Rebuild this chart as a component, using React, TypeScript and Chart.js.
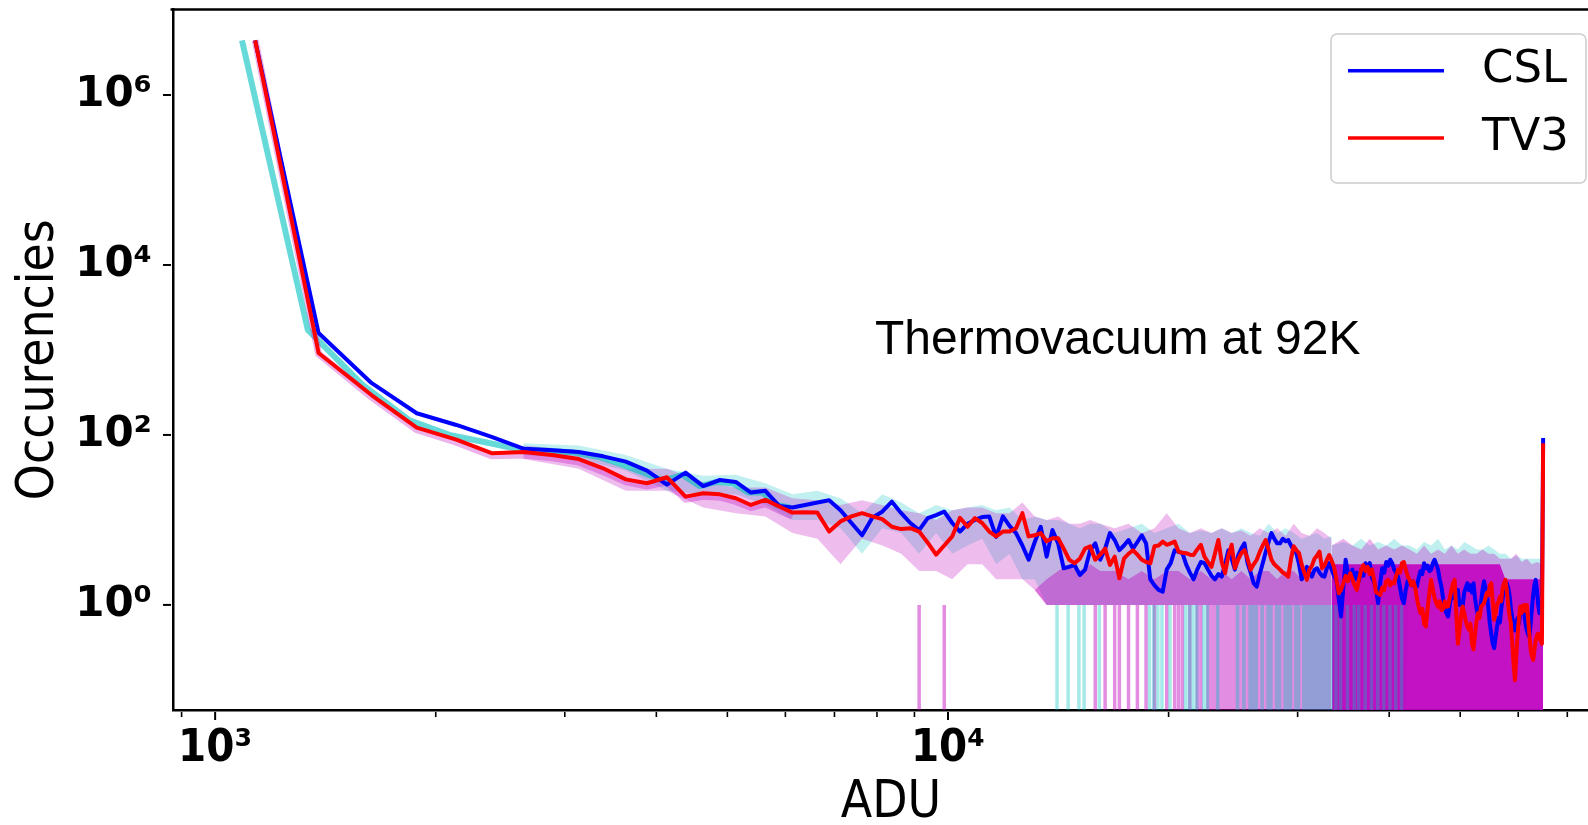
import React, { useEffect, useRef } from 'react';
import { Chart, registerables } from 'chart.js';

Chart.register(...registerables);

// ---------------- data ----------------
const BIN_WIDTH = 250; // ADU per histogram bin
const BIN_START = 1134; // first bin of the CSL / TV3 mean histograms (ADU)
const CSL_FRAME_BIN_START = 1088; // CSL single-frame histograms start a little lower

// mean histograms (256 bins, last bin = saturation)
const CSL_COUNTS = [
  4.4e6, 1585, 409, 180, 131, 95, 69, 66, 63, 56,
  48.5, 38, 26, 36, 25, 29.5, 28, 21, 22, 14.6,
  14, 15, 16, 17, 13, 9.2, 6.6, 10.6, 12.5, 16.4,
  12, 9.2, 7.6, 10.5, 11.4, 12.5, 9.2, 7.3, 9, 10,
  10.8, 11, 6.3, 11, 8.5, 7, 5, 3.4, 5.5, 8.3,
  3.7, 7.6, 5.3, 2.7, 2.8, 2.95, 2.25, 2.6, 4.4, 5.3,
  3.4, 4.6, 7.0, 5.8, 4.4, 5.0, 5.8, 4.6, 5.5, 6.6,
  5.3, 2.0, 1.7, 1.5, 1.43, 2.6, 3.1, 4.4, 4.2, 4.1,
  3.0, 2.4, 2.0, 2.6, 3.2, 3.1, 2.6, 2.2, 2.0, 2.3,
  2.15, 3.0, 4.4, 3.5, 2.6, 3.8, 4.6, 5.3, 3.1, 2.4,
  1.8, 1.64, 2.3, 3.1, 4.2, 5.5, 7.0, 6.0, 5.3, 5.3,
  6.0, 5.6, 5.8, 5.0, 4.4, 4.06, 3.0, 2.0, 2.3, 2.8,
  2.4, 2.15, 2.6, 2.7, 2.4, 2.2, 2.15, 2.7, 3.1, 2.6,
  2.2, 1.97, 1.2, 0.73, 1.6, 3.4, 2.4, 2.0, 2.6, 2.0,
  2.4, 1.9, 2.6, 2.2, 3.1, 2.6, 3.1, 2.1, 1.88, 1.5,
  1.05, 1.8, 2.7, 2.4, 3.2, 2.9, 3.4, 3.1, 2.6, 2.4,
  2.15, 1.6, 1.2, 1.05, 1.5, 1.9, 1.97, 1.7, 1.9, 1.6,
  1.64, 2.1, 2.5, 2.3, 3.1, 2.7, 2.9, 2.5, 2.6, 3.1,
  3.4, 3.0, 2.6, 2.0, 1.64, 1.2, 0.9, 0.8, 0.73, 1.0,
  1.4, 1.2, 1.7, 1.3, 1.5, 1.0, 1.1, 0.96, 1.4, 1.6,
  1.8, 1.5, 1.7, 1.4, 1.8, 1.2, 0.9, 0.75, 0.73, 1.1,
  1.5, 1.9, 1.6, 1.3, 0.9, 0.6, 0.45, 0.35, 0.31, 0.42,
  0.55, 0.7, 0.62, 0.9, 1.2, 1.6, 1.4, 1.8, 1.6, 1.3,
  0.9, 0.7, 0.62, 0.5, 0.61, 0.7, 0.6, 0.8, 0.9, 0.96,
  0.8, 0.6, 0.5, 0.45, 0.42, 0.6, 0.9, 1.3, 1.7, 1.97,
  1.5, 1.0, 0.8, 0.9, 0.96, 92,
];

const TV3_COUNTS = [
  4.4e6, 922, 295, 122, 88, 61, 63, 58, 52, 40.5,
  30, 27, 31.8, 18.8, 20.6, 20, 18, 15, 17.2, 14.4,
  12.2, 12.3, 12.2, 7.3, 9.6, 11, 12, 11, 10.2, 8.3,
  7.8, 8, 7.3, 5.4, 3.9, 5.0, 6.4, 10.6, 8.3, 10.5,
  9.2, 7.3, 6.4, 7.3, 7.3, 8, 12, 6.4, 6.6, 7.0,
  5.6, 6.1, 6.1, 4.6, 3.4, 3.1, 3.5, 4.6, 4.9, 3.4,
  3.9, 4.6, 2.95, 3.7, 2.06, 3.5, 4.0, 4.4, 3.9, 3.4,
  3.2, 3.1, 4.9, 5.0, 5.56, 5.1, 5.3, 5.56, 4.24, 4.1,
  4.06, 3.9, 3.87, 4.5, 5.1, 3.7, 3.2, 2.8, 4.0, 5.8,
  3.2, 2.36, 3.8, 5.1, 2.7, 3.4, 4.06, 4.4, 3.5, 2.6,
  3.0, 3.4, 4.2, 5.0, 5.8, 4.5, 3.4, 3.0, 2.8, 2.6,
  2.4, 2.3, 2.15, 3.5, 4.9, 4.4, 4.06, 3.0, 2.4, 1.97,
  2.6, 2.9, 3.5, 3.8, 4.24, 2.7, 2.9, 3.4, 3.87, 3.3,
  2.8, 2.0, 1.37, 1.5, 1.8, 2.2, 1.9, 2.36, 2.0, 1.7,
  1.5, 2.0, 2.6, 2.95, 2.5, 2.8, 2.3, 2.6, 2.0, 1.4,
  1.37, 1.31, 1.6, 1.5, 1.9, 1.97, 1.7, 1.85, 1.8, 2.2,
  2.6, 2.4, 3.1, 3.2, 2.6, 2.2, 1.97, 1.7, 1.9, 1.64,
  1.2, 0.95, 0.8, 0.9, 0.6, 0.56, 0.9, 1.4, 1.97, 1.5,
  1.2, 1.05, 0.95, 1.1, 0.87, 0.9, 1.1, 0.95, 0.96, 1.2,
  1.5, 1.8, 1.97, 0.8, 0.35, 0.5, 0.75, 0.96, 0.8, 0.65,
  0.55, 0.51, 0.6, 0.35, 0.3, 0.45, 0.65, 0.8, 0.7, 0.95,
  1.0, 1.05, 1.2, 1.4, 1.3, 1.7, 1.8, 1.1, 0.67, 0.8,
  1.0, 1.1, 1.25, 1.1, 1.6, 1.8, 1.97, 1.5, 1.0, 0.75,
  0.61, 0.35, 0.2, 0.13, 0.25, 0.45, 0.7, 0.96, 0.8, 0.98,
  1.0, 0.85, 1.0, 0.7, 0.45, 0.3, 0.25, 0.225, 0.3, 0.38,
  0.44, 0.46, 0.4, 0.38, 0.35, 80,
];

// single-frame histograms: typical level of the first bins
const CSL_FRAMES_MEAN = [4.4e6, 1720, 390, 150, 100, 82, 68, 65, 62, 55, 45, 36, 29, 34, 25, 28, 27, 21, 21, 15, 14];
const TV3_FRAMES_MEAN = [4.4e6, 900, 280, 115, 82, 57, 58, 54, 48, 37, 28, 25, 28, 17.5, 19, 18.5, 16.5, 14, 15.5, 13, 11];

// single-frame spread (envelopes), below ~33k ADU
const BINS_AB = [
  6, 8, 10, 12, 14, 16, 18, 20, 22, 24, 26, 28, 30, 32, 34, 36, 38, 40, 42, 44, 46, 48, 50, 52, 54, 56, 58, 60,
  63, 66, 69, 72, 75, 78, 81, 84, 87, 90, 93, 96, 99, 102, 105, 108, 111, 114, 117, 120, 123, 126, 129,
];
const TV3_MAX_AB = [
  75, 66, 40, 40, 28, 24, 24, 18, 17, 15, 17, 15, 13, 12, 10, 13, 14, 14, 12, 12, 16, 11, 10, 11, 9, 9, 10, 9,
  8, 9, 7, 8, 12, 8, 7, 8, 7, 8, 7, 7.5, 6.5, 8, 7, 8, 6.5, 9, 7, 6.5, 8, 7, 6,
];
const TV3_MIN_AB = [
  52, 40, 22, 22, 14, 12, 11, 7, 6, 3, 6, 5, 4, 2.5, 2.5, 2, 3, 3, 2, 2, 2, 1.5, 1, 1, 1, 1, 1, 1,
  1, 1, 1, 1, 1, 1, 1, 1, 1, 1, 1, 1, 1, 1, 1, 1, 1, 1, 1, 1, 1, 1, 1,
];
const TV3_CORE_AB = [
  52, 40, 22, 22, 14, 12, 11, 7, 6, 3, 6, 5, 4, 2.5, 2.5, 2, 3, 3, 2, 2, 2, 1.5, 2, 2.5, 3, 2.5, 3, 2.5,
  2.5, 2, 2.5, 2, 2.5, 2.5, 2, 2.5, 2, 2.5, 2, 2.5, 2, 2.5, 2.5, 2, 2.5, 2.5, 2, 2.5, 2.5, 3, 3,
];
const CSL_MAX_AB = [
  80, 75, 58, 40, 33, 34, 27, 20, 22, 18, 12, 20, 16, 12, 15, 13, 14, 15, 13, 14, 10, 11, 10, 10, 9, 8, 9, 9,
  7, 8, 9, 7, 8, 9, 7, 7.5, 7, 8, 7, 8, 7, 6.5, 9, 7, 8, 7, 6, 6.5, 7, 6, 6.5,
];
const CSL_MIN_AB = [
  58, 52, 38, 22, 20, 20, 15, 10, 10, 8, 4, 8, 7, 4, 7, 4, 5, 6, 3, 4, 2, 2, 1, 1, 1, 1, 1, 1,
  1, 1, 1, 1, 1, 1, 1, 1, 1, 1, 1, 1, 1, 1, 1, 1, 1, 1, 1, 1, 1, 1, 1,
];

// single-frame spread above ~33k ADU (most frames hit 0 counts there)
const BINS_C = [
  129, 134, 138, 142, 146, 150, 154, 158, 162, 166, 170, 174, 178, 182, 186, 190, 194, 198, 202, 206, 210,
  214, 218, 222, 226, 230, 234, 238, 242, 246, 250, 254, 255,
];
const TV3_MAX_C = [
  5, 6, 5, 4.5, 6, 4.5, 5, 4.5, 5, 4.5, 4, 5, 4, 4.5, 4, 5, 4, 4.5, 4, 4, 4.5, 4, 4, 3.5, 3.5, 3.5, 4, 3.2,
  3.5, 3, 3.2, 3, 3,
];
const TV3_MIN_C = [
  0, 0, 0, 0, 0, 0, 0, 0, 0, 0, 0, 0, 0, 0, 0, 0, 0, 0, 0, 0, 0, 0, 0, 0, 0, 0, 0, 0, 0, 0, 0, 0, 0,
];
const TV3_CORE_C = [
  3, 3, 3, 3, 3, 3, 3, 3, 3, 3, 3, 3, 3, 3, 3, 3, 3, 3, 3, 3, 3, 3, 3, 3, 2, 2, 2, 2, 2, 2, 2, 2, 2,
];
const CSL_MAX_C = [
  5, 5.5, 5, 6, 5, 5.5, 5, 6, 5, 5, 4.5, 5.5, 5, 6, 4.5, 5, 4.5, 5.5, 5, 4.5, 4.5, 5, 4.5, 4, 4, 3.5, 3.8,
  3.5, 3.5, 3.5, 3.5, 3.5, 3.5,
];
const CSL_MIN_C = [
  0, 0, 0, 0, 0, 0, 0, 0, 0, 3, 3, 3, 3, 3, 3, 3, 3, 3, 3, 3, 3, 3, 3, 3, 2, 2, 2, 2, 2, 2, 2, 2, 2,
];

// bins in which single frames dropped to zero counts
const TV3_ZERO_BINS = [
  32, 35, 59, 61, 63, 64, 66, 68, 70, 72, 75, 77, 78, 79, 81, 83, 84, 86, 87, 88, 89, 90, 91, 92, 93, 94, 95,
  96, 97, 98, 99, 100, 101, 102, 103, 104, 105, 106, 107, 108, 109, 110, 111, 112, 113, 114, 115, 116, 117,
  118, 119, 120, 121, 122, 123, 124, 125, 126, 127, 128,
];
const CSL_ZERO_BINS = [
  52, 54, 56, 57, 60, 71, 72, 73, 74, 76, 80, 81, 82, 83, 85, 86, 89, 95, 97, 99, 100, 101, 103, 105, 106, 108,
  109, 111, 112, 113, 115, 116, 118, 119, 120, 121, 122, 123, 124, 125, 126, 127, 128, 129, 131, 133, 136, 139,
  141, 144, 147, 150, 153, 156, 159, 162,
];
const ZERO_STREAK_FROM = 1; // count level the zero drops start from

// axes
const X_MIN = 876;
const X_MAX = 79800;
const Y_MIN = 0.058;
const Y_MAX = 1.014e7;
const X_MAJOR_TICKS = [1000, 10000];
const X_MAJOR_LABELS = ['10³', '10⁴'];
const X_MINOR_TICKS = [900, 2000, 3000, 4000, 5000, 6000, 7000, 8000, 9000, 20000, 30000, 40000, 50000, 60000, 70000];
const Y_TICKS = [1, 100, 10000, 1000000];
const Y_TICK_LABELS = ['10⁰', '10²', '10⁴', '10⁶'];
const X_TITLE = 'ADU';
const Y_TITLE = 'Occurencies';
const SERIES_LABELS = ['CSL', 'TV3'];
const ANNOTATION = 'Thermovacuum at 92K';
const ANNOTATION_X = 7950;
const ANNOTATION_Y = 900;

// ---------------- styling ----------------
const ZERO_FLOOR = 1e-3; // where zero counts are drawn (below the axis, like matplotlib clipping)
const BLUE = 'rgb(0,0,255)';
const RED = 'rgb(255,0,0)';
const cyan = (a: number) => `rgba(0,191,191,${a})`;
const magenta = (a: number) => `rgba(191,0,191,${a})`;
const CONDENSED = "'DejaVu Sans Condensed', 'DejaVu Sans', sans-serif";

const asY = (v: number) => (v === 0 ? ZERO_FLOOR : v);
const histPoints = (vals: number[], start: number) =>
  vals.map((v, i) => ({ x: start + BIN_WIDTH * i, y: asY(v) }));
const bandPoints = (bins: number[], vals: number[]) =>
  bins.map((b, k) => ({ x: BIN_START + BIN_WIDTH * b, y: asY(vals[k]) }));
const streakPoints = (bins: number[], start: number) =>
  bins.flatMap((b) => {
    const x = start + BIN_WIDTH * b;
    return [
      { x, y: ZERO_STREAK_FROM },
      { x, y: asY(0) },
      { x, y: null as number | null },
    ];
  });

const hidden = {
  type: 'line' as const,
  borderColor: 'rgba(0,0,0,0)',
  backgroundColor: 'rgba(0,0,0,0)',
  borderWidth: 0,
  pointRadius: 0,
  fill: false,
  clip: 0,
};

function buildDatasets() {
  const ds: any[] = [];
  const add = (d: any) => {
    ds.push(d);
    return ds.length - 1;
  };
  // CSL frames envelope (cyan)
  const cMaxAB = add({ ...hidden, label: 'csl-max-ab', data: bandPoints(BINS_AB, CSL_MAX_AB), order: 70 });
  add({ ...hidden, label: 'csl-min-ab', data: bandPoints(BINS_AB, CSL_MIN_AB), fill: cMaxAB, backgroundColor: cyan(0.24), order: 69 });
  const cMaxC = add({ ...hidden, label: 'csl-max-c', data: bandPoints(BINS_C, CSL_MAX_C), order: 68 });
  add({ ...hidden, label: 'csl-min-c', data: bandPoints(BINS_C, CSL_MIN_C), fill: cMaxC, backgroundColor: cyan(0.25), order: 67 });
  // TV3 frames envelope (magenta)
  const mMaxAB = add({ ...hidden, label: 'tv3-max-ab', data: bandPoints(BINS_AB, TV3_MAX_AB), order: 60 });
  const mMinAB = add({ ...hidden, label: 'tv3-min-ab', data: bandPoints(BINS_AB, TV3_MIN_AB), fill: mMaxAB, backgroundColor: magenta(0.26), order: 59 });
  add({ ...hidden, label: 'tv3-core-ab', data: bandPoints(BINS_AB, TV3_CORE_AB), fill: mMinAB, backgroundColor: magenta(0.4), order: 58 });
  const mMaxC = add({ ...hidden, label: 'tv3-max-c', data: bandPoints(BINS_C, TV3_MAX_C), order: 57 });
  const mMinC = add({ ...hidden, label: 'tv3-min-c', data: bandPoints(BINS_C, TV3_MIN_C), fill: mMaxC, backgroundColor: magenta(0.3), order: 56 });
  add({ ...hidden, label: 'tv3-core-c', data: bandPoints(BINS_C, TV3_CORE_C), fill: mMinC, backgroundColor: magenta(0.9), order: 55 });
  // zero-count drops
  add({ ...hidden, label: 'tv3-zero', data: streakPoints(TV3_ZERO_BINS, BIN_START), borderColor: magenta(0.45), borderWidth: 3.5, order: 50 });
  add({ ...hidden, label: 'csl-zero', data: streakPoints(CSL_ZERO_BINS, CSL_FRAME_BIN_START), borderColor: cyan(0.35), borderWidth: 3.5, order: 49 });
  // single frames near the peak (halo)
  add({ ...hidden, label: 'csl-frames', data: histPoints(CSL_FRAMES_MEAN, CSL_FRAME_BIN_START), borderColor: cyan(0.6), borderWidth: 6, borderJoinStyle: 'round', order: 40 });
  add({ ...hidden, label: 'tv3-frames', data: histPoints(TV3_FRAMES_MEAN, BIN_START), borderColor: magenta(0.3), borderWidth: 7, borderJoinStyle: 'round', order: 39 });
  // mean histograms
  add({
    type: 'line', label: SERIES_LABELS[0], data: histPoints(CSL_COUNTS, BIN_START),
    borderColor: BLUE, backgroundColor: BLUE, borderWidth: 4, pointRadius: 0, fill: false,
    borderJoinStyle: 'round', order: 2,
  });
  add({
    type: 'line', label: SERIES_LABELS[1], data: histPoints(TV3_COUNTS, BIN_START),
    borderColor: RED, backgroundColor: RED, borderWidth: 4, pointRadius: 0, fill: false,
    borderJoinStyle: 'round', order: 1,
  });
  return ds;
}

const decorPlugin = {
  id: 'decor',
  afterDraw(chart: any) {
    const { ctx, chartArea: a, scales } = chart;
    const xs = scales.x;
    const ys = scales.y;
    ctx.save();
    ctx.strokeStyle = '#000';
    ctx.lineCap = 'butt';
    // top frame line
    ctx.lineWidth = 2.5;
    ctx.beginPath();
    ctx.moveTo(a.left - 2.5, a.top);
    ctx.lineTo(a.right, a.top);
    ctx.stroke();
    const seg = (x1: number, y1: number, x2: number, y2: number, w: number) => {
      ctx.lineWidth = w;
      ctx.beginPath();
      ctx.moveTo(x1, y1);
      ctx.lineTo(x2, y2);
      ctx.stroke();
    };
    for (const v of X_MAJOR_TICKS) {
      const px = xs.getPixelForValue(v);
      seg(px, a.bottom + 2, px, a.bottom + 10, 2);
    }
    for (const v of X_MINOR_TICKS) {
      const px = xs.getPixelForValue(v);
      seg(px, a.bottom + 2, px, a.bottom + 7, 1.6);
    }
    for (const v of Y_TICKS) {
      const py = ys.getPixelForValue(v);
      seg(a.left - 10, py, a.left - 2, py, 2);
    }
    // annotation
    ctx.fillStyle = '#000';
    ctx.font = "48px 'Liberation Sans', Arial, sans-serif";
    ctx.textAlign = 'left';
    ctx.textBaseline = 'alphabetic';
    ctx.fillText(ANNOTATION, xs.getPixelForValue(ANNOTATION_X), ys.getPixelForValue(ANNOTATION_Y));
    // legend
    const bx = a.right - 278;
    const by = a.top + 24.5;
    ctx.beginPath();
    ctx.roundRect(bx, by, 255, 149, 6);
    ctx.fillStyle = 'rgba(255,255,255,0.8)';
    ctx.fill();
    ctx.strokeStyle = '#cccccc';
    ctx.lineWidth = 1.5;
    ctx.stroke();
    const entries = chart.data.datasets.filter((d: any) => SERIES_LABELS.includes(d.label));
    entries.forEach((d: any, k: number) => {
      const ly = by + 36.7 + k * 67.3;
      ctx.strokeStyle = d.borderColor;
      ctx.lineWidth = 3.5;
      ctx.beginPath();
      ctx.moveTo(bx + 17, ly);
      ctx.lineTo(bx + 113, ly);
      ctx.stroke();
      ctx.fillStyle = '#000';
      ctx.font = "45px 'DejaVu Sans', sans-serif";
      ctx.textBaseline = 'middle';
      ctx.fillText(d.label, bx + 151, ly);
    });
    ctx.restore();
  },
};

export default function App() {
  const ref = useRef<HTMLCanvasElement>(null);
  useEffect(() => {
    if (!ref.current) return;
    const chart = new Chart(ref.current, {
      type: 'line',
      data: { datasets: buildDatasets() },
      options: {
        responsive: false,
        devicePixelRatio: 1,
        animation: false,
        events: [],
        layout: { padding: { top: 9.5, right: 3, bottom: 0, left: 0 } },
        plugins: { legend: { display: false }, tooltip: { enabled: false } },
        scales: {
          x: {
            type: 'logarithmic',
            position: 'bottom',
            min: X_MIN,
            max: X_MAX,
            bounds: 'data',
            z: 1,
            afterBuildTicks: (s: any) => {
              s.ticks = [...X_MINOR_TICKS, ...X_MAJOR_TICKS].sort((p, q) => p - q).map((v) => ({ value: v }));
            },
            afterFit: (s: any) => {
              s.height = 115;
              s.paddingLeft = 0;
              s.paddingRight = 0;
            },
            grid: { drawOnChartArea: false, drawTicks: true, tickLength: 9, tickColor: 'rgba(0,0,0,0)' },
            border: { display: true, color: '#000', width: 2.5 },
            ticks: {
              autoSkip: false,
              maxRotation: 0,
              minRotation: 0,
              padding: 3.5,
              color: '#000',
              font: { family: CONDENSED, size: 45, weight: 'bold', lineHeight: 1.2 },
              callback: (v: any) => {
                const k = X_MAJOR_TICKS.indexOf(Number(v));
                return k >= 0 ? X_MAJOR_LABELS[k] : '';
              },
            },
            title: {
              display: true,
              text: X_TITLE,
              color: '#000',
              font: { family: CONDENSED, size: 51, lineHeight: 0.8 },
              padding: { top: 0, bottom: 1 },
            },
          },
          y: {
            type: 'logarithmic',
            position: 'left',
            min: Y_MIN,
            max: Y_MAX,
            bounds: 'data',
            z: 1,
            afterBuildTicks: (s: any) => {
              s.ticks = Y_TICKS.map((v) => ({ value: v }));
            },
            afterFit: (s: any) => {
              s.width = 173;
              s.paddingTop = 0;
              s.paddingBottom = 0;
            },
            grid: { drawOnChartArea: false, drawTicks: true, tickLength: 9, tickColor: 'rgba(0,0,0,0)' },
            border: { display: true, color: '#000', width: 2.5 },
            ticks: {
              autoSkip: false,
              padding: 12,
              color: '#000',
              font: { family: "'DejaVu Sans', sans-serif", size: 42, weight: 'bold', lineHeight: 1.2 },
              callback: (v: any) => {
                const k = Y_TICKS.indexOf(Number(v));
                return k >= 0 ? Y_TICK_LABELS[k] : '';
              },
            },
            title: {
              display: true,
              text: Y_TITLE,
              color: '#000',
              font: { family: CONDENSED, size: 51, lineHeight: 1 },
              padding: { top: 14, bottom: 0 },
            },
          },
        },
      } as any,
      plugins: [decorPlugin],
    });
    return () => chart.destroy();
  }, []);
  return (
    <div
      style={{
        position: 'fixed',
        left: 0,
        top: 0,
        width: 1588,
        height: 825,
        overflow: 'hidden',
        background: '#fff',
      }}
    >
      <canvas ref={ref} width={1612} height={825} style={{ display: 'block', width: 1612, height: 825 }} />
    </div>
  );
}
